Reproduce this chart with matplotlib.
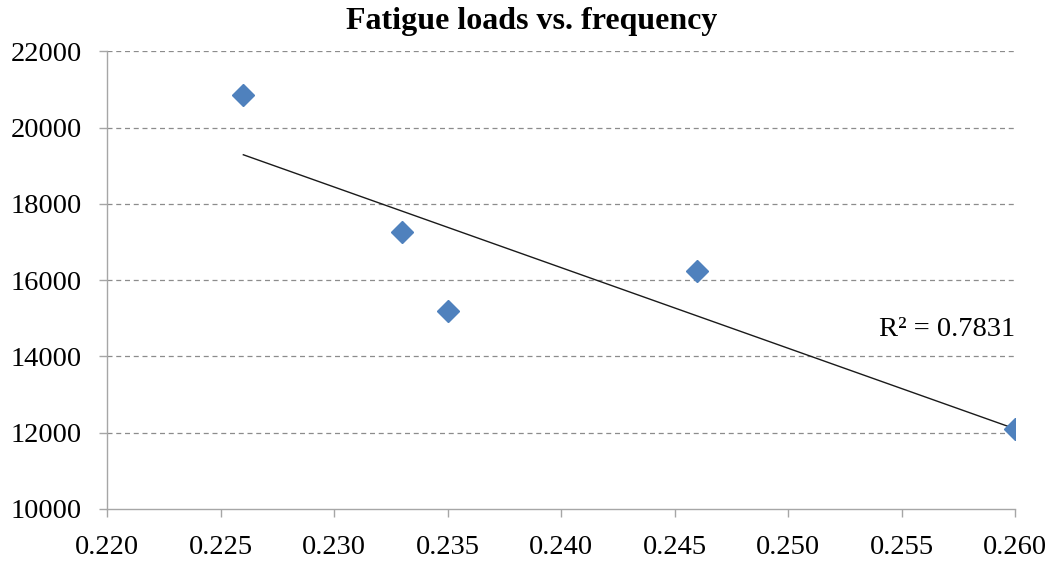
"""Fatigue loads vs. frequency scatter with linear trendline."""
import matplotlib
matplotlib.use("Agg")
import matplotlib.pyplot as plt
import numpy as np

frequency = [0.226, 0.233, 0.235, 0.246, 0.260]
fatigue_load = [20850, 17250, 15200, 16230, 12100]
r2_label = "R² = 0.7831"

plt.rcParams["font.family"] = ["Liberation Serif", "DejaVu Serif"]

fig = plt.figure(figsize=(10.5, 5.63), dpi=100)
ax = fig.add_axes([0.102, 0.096, 0.865, 0.813])

# linear trendline over the data range
slope, intercept = np.polyfit(frequency, fatigue_load, 1)
xs = np.array([min(frequency), max(frequency)])
ax.plot(xs, slope * xs + intercept, color="#1a1a1a", lw=1.0, zorder=2)

ax.plot(frequency, fatigue_load, "D", color="#4F81BD", ms=11.5, mec="#4F81BD", zorder=3)

ax.set_xlim(0.220, 0.260)
ax.set_ylim(10000, 22000)
ax.set_xticks(np.arange(0.220, 0.2601, 0.005))
ax.set_xticklabels([f"{t:.3f}" for t in np.arange(0.220, 0.2601, 0.005)])
ax.set_yticks(range(10000, 22001, 2000))

for y in range(12000, 22001, 2000):
    ax.axhline(y, color="#8c8c8c", lw=0.9, ls=(0, (4, 3)), zorder=1)

for s in ("top", "right"):
    ax.spines[s].set_visible(False)
for s in ("left", "bottom"):
    ax.spines[s].set_color("#a6a6a6")
    ax.spines[s].set_linewidth(1.0)

ax.tick_params(axis="both", direction="out", length=6, width=1.0, color="#a6a6a6",
               labelsize=20.5, labelcolor="black")
ax.tick_params(axis="y", pad=12)
ax.tick_params(axis="x", pad=13)

ax.text(0.2600, 14700, r2_label, ha="right", va="center", fontsize=20.5)

fig.text(0.506, 0.962, "Fatigue loads vs. frequency", ha="center", va="center",
         fontsize=23, fontweight="bold")

fig.savefig("out.png", dpi=100)
